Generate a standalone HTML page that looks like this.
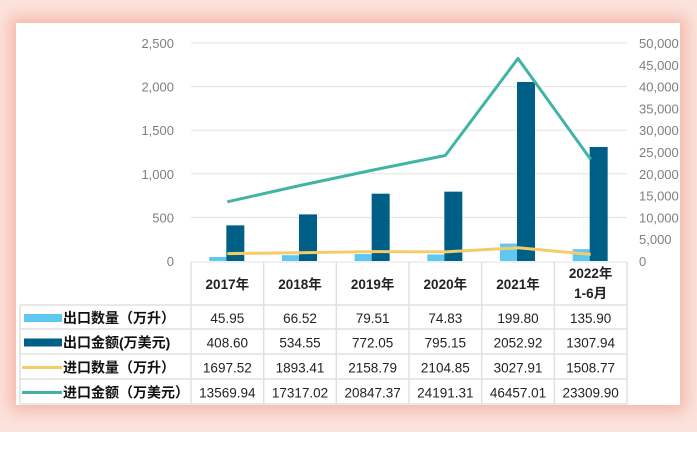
<!DOCTYPE html>
<html><head><meta charset="utf-8">
<style>
html,body{margin:0;padding:0;background:#fff;}
body{width:697px;height:454px;position:relative;overflow:hidden;font-family:"Liberation Sans","Noto Sans CJK SC",sans-serif;}
#bg{position:absolute;left:0;top:0;width:697px;height:432px;background:#fbe3dc;}
#card{position:absolute;left:16px;top:23px;width:664px;height:382px;background:#fff;box-shadow:0 0 14px 6px rgba(238,150,130,0.55);}
svg{position:absolute;left:0;top:0;}
.n{font-family:"Liberation Sans Narrow","Liberation Sans","Noto Sans CJK SC",sans-serif;}
</style></head>
<body>
<div id="bg"></div>
<div id="card"></div>
<svg id="chart" width="697" height="454"></svg>
<script>
const categories=["2017年","2018年","2019年","2020年","2021年","2022年|1-6月"];
const exportQty=[45.95,66.52,79.51,74.83,199.80,135.90];
const exportAmt=[408.60,534.55,772.05,795.15,2052.92,1307.94];
const importQty=[1697.52,1893.41,2158.79,2104.85,3027.91,1508.77];
const importAmt=[13569.94,17317.02,20847.37,24191.31,46457.01,23309.90];
const leftTicks=[0,500,1000,1500,2000,2500];
const rightTicks=[0,5000,10000,15000,20000,25000,30000,35000,40000,45000,50000];
const seriesNames=["出口数量（万升）","出口金额(万美元)","进口数量（万升）","进口金额（万美元）"];

const svg=document.getElementById('chart');
const NS='http://www.w3.org/2000/svg';
function mk(t,a,p){const e=document.createElementNS(NS,t);for(const k in a)e.setAttribute(k,a[k]);(p||svg).appendChild(e);return e;}
const X0=191,X1=627,YT=43,YB=261;
const cw=(X1-X0)/categories.length;
const cx=i=>X0+cw*(i+0.5);
const yL=v=>YB-(v/2500)*(YB-YT);
const yR=v=>YB-(v/50000)*(YB-YT);
const fmt=v=>v.toLocaleString('en-US');

leftTicks.forEach(v=>{
  if(v>0){const g=mk('line',{x1:X0,x2:X1,y1:yL(v),y2:yL(v),stroke:'#e3e3e3','stroke-width':1});
  
  }
  const t=mk('text',{x:174,y:yL(v)+5,'text-anchor':'end','font-size':13,fill:'#7f7f7f',class:'n'});t.textContent=fmt(v);
  
  
});
rightTicks.forEach(v=>{
  const t=mk('text',{x:639,y:yR(v)+5,'font-size':13,fill:'#7f7f7f',class:'n'});t.textContent=fmt(v);
  
  
});
categories.forEach((c,i)=>{
  const b1=mk('rect',{x:cx(i)-18,y:yL(exportQty[i]),width:17,height:YB-yL(exportQty[i]),fill:'#5ec8f0'});
  
  
  const b2=mk('rect',{x:cx(i)-1,y:yL(exportAmt[i]),width:18,height:YB-yL(exportAmt[i]),fill:'#005f86'});
  
  
});
function line(arr,color,name){
  const p=mk('polyline',{points:arr.map((v,i)=>cx(i)+','+yR(v)).join(' '),fill:'none',stroke:color,'stroke-width':3,'stroke-linejoin':'round'});
  
  
}
line(importQty,'#f5cc6a','line-import-qty');
line(importAmt,'#43b3a6','line-import-amount');

const rows=[262,305,329,354,379,404];
const gc='#e0e0e0';
mk('line',{x1:X0,x2:X1,y1:262,y2:262,stroke:gc});
for(let r=1;r<rows.length;r++){mk('line',{x1:20,x2:X1,y1:rows[r],y2:rows[r],stroke:gc,'stroke-width':1.5});}
for(let i=0;i<=categories.length;i++){mk('line',{x1:X0+cw*i,x2:X0+cw*i,y1:262,y2:404,stroke:gc,'stroke-width':1.5});}
mk('line',{x1:20,x2:20,y1:305,y2:404,stroke:gc,'stroke-width':1.5});
categories.forEach((c,i)=>{
  const parts=c.split('|');
  parts.forEach((p,k)=>{
    const y=parts.length===1?289:278+k*20;
    const t=mk('text',{x:cx(i),y:y,'text-anchor':'middle','font-size':13.5,'font-weight':'bold',fill:'#222',class:'n'});t.textContent=p;
    
    
  });
});
const data=[exportQty,exportAmt,importQty,importAmt];
const cols=['#5ec8f0','#005f86','#f5cc6a','#43b3a6'];
data.forEach((arr,r)=>{
  const y=(rows[r+1]+rows[r+2])/2+5;
  if(r<2){mk('rect',{x:24,y:y-8,width:38,height:8,fill:cols[r]});}
  else{mk('line',{x1:22,x2:62,y1:y-4,y2:y-4,stroke:cols[r],'stroke-width':3});}
  const l=mk('text',{x:63,y:y+1,'font-size':14,'font-weight':'bold',fill:'#111'});l.textContent=seriesNames[r];
  
  
  arr.forEach((v,i)=>{
    const t=mk('text',{x:cx(i),y:y+1,'text-anchor':'middle','font-size':13.5,fill:'#222',class:'n'});t.textContent=v.toFixed(2);
    
    
  });
});
</script>
</body></html>
